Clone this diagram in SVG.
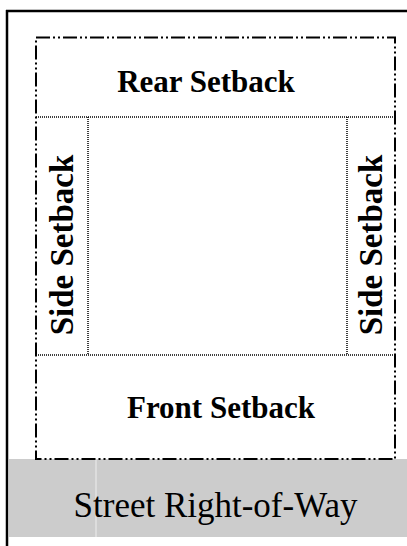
<svg xmlns="http://www.w3.org/2000/svg" width="407" height="546" viewBox="0 0 407 546">
<style>
.bold{font-family:"Liberation Serif","Times New Roman",serif;font-weight:bold;fill:#000;text-anchor:middle}
.reg{font-family:"Liberation Serif","Times New Roman",serif;fill:#000;text-anchor:middle}
.frame{stroke:#000;stroke-width:2.5;fill:none}
.dashdot{stroke:#000;stroke-width:2;fill:none;stroke-dasharray:14 3 2 3 2 3}
.dotted{stroke:#000;stroke-width:1.5;fill:none;stroke-dasharray:1 1}
</style>
<rect width="407" height="546" fill="#fff"/>
<g id="street">
<rect x="9" y="459" width="398" height="78" fill="#cccccc"/>
<line x1="96" y1="459" x2="96" y2="537" stroke="#eeeeee" stroke-width="1"/>
<text class="reg" x="215.5" y="517" font-size="35">Street Right-of-Way</text>
</g>
<g id="frame">
<line class="frame" x1="6" y1="11" x2="407" y2="11"/>
<line class="frame" x1="7" y1="10" x2="7" y2="546"/>
</g>
<g id="connectors">
<rect class="dashdot" x="36" y="37.5" width="359" height="421.5"/>
<line class="dotted" x1="36" y1="117" x2="395" y2="117"/>
<line class="dotted" x1="36" y1="355" x2="395" y2="355"/>
<line class="dotted" x1="88" y1="117" x2="88" y2="355"/>
<line class="dotted" x1="347" y1="117" x2="347" y2="355"/>
</g>
<g id="rear">
<text class="bold" x="206" y="92" font-size="31">Rear Setback</text>
</g>
<g id="front">
<text class="bold" x="221" y="418" font-size="31">Front Setback</text>
</g>
<g id="side-left">
<text class="bold" font-size="33" transform="translate(73,245) rotate(-90)">Side Setback</text>
</g>
<g id="side-right">
<text class="bold" font-size="33" transform="translate(382,245) rotate(-90)">Side Setback</text>
</g>
</svg>
